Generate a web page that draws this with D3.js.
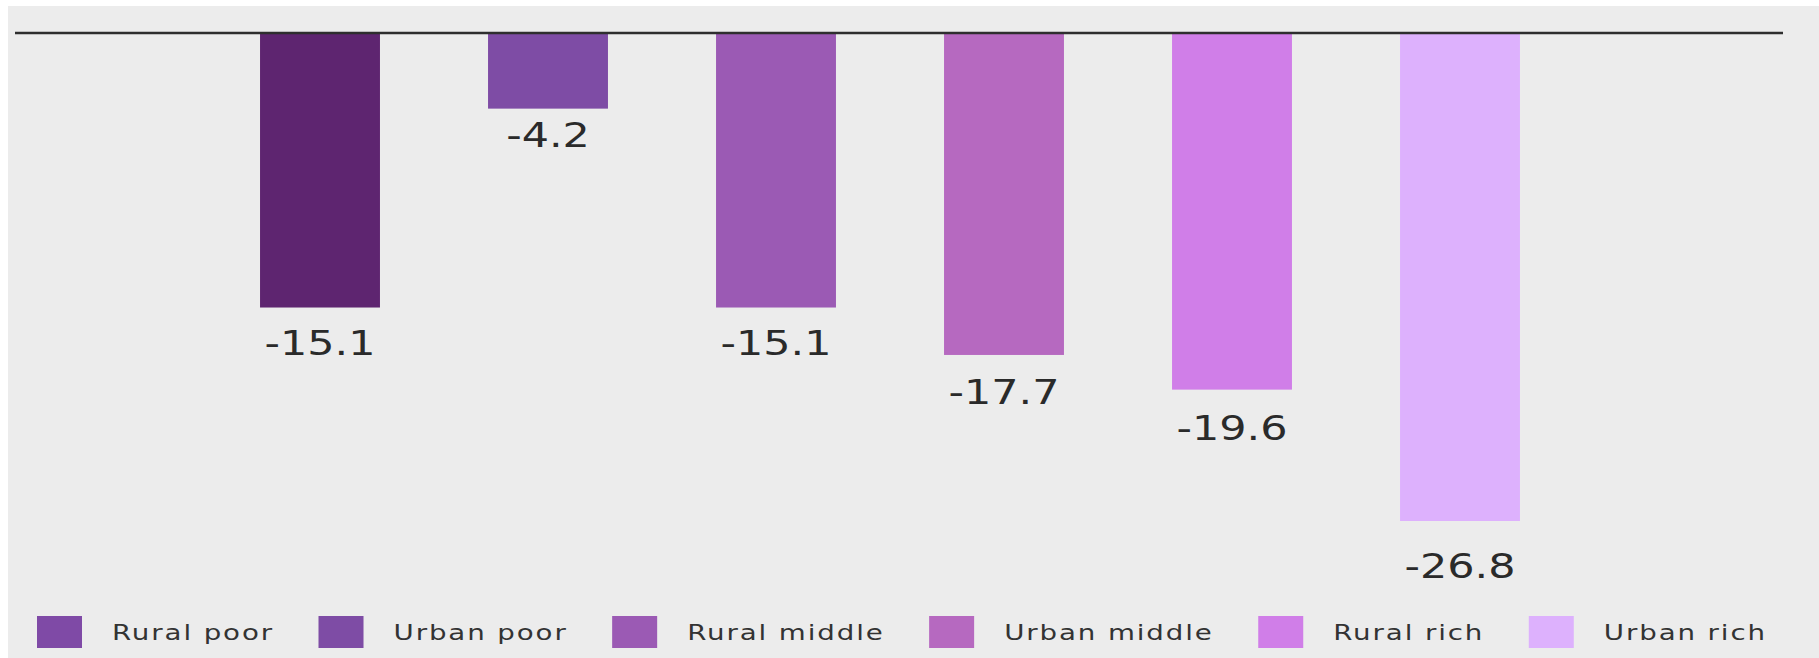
<!DOCTYPE html>
<html>
<head>
<meta charset="utf-8">
<script src="https://cdn.jsdelivr.net/npm/d3@7"></script>
<style>
  html, body { margin: 0; padding: 0; background: #ffffff; }
  svg { display: block; }
</style>
</head>
<body>
<svg id="chart" width="1819" height="658"></svg>
<script>
const categories = ["Rural poor", "Urban poor", "Rural middle", "Urban middle", "Rural rich", "Urban rich"];
const values = [-15.1, -4.2, -15.1, -17.7, -19.6, -26.8];
const valueLabels = ["-15.1", "-4.2", "-15.1", "-17.7", "-19.6", "-26.8"];
const barColors = ["#5e2570", "#7e4ca5", "#9b5ab4", "#b669c0", "#d07ee8", "#ddb1fd"];
const legendColors = ["#7f4aa6", "#7e4ca5", "#9b5ab4", "#b669c0", "#d07ee8", "#ddb1fd"];

const W = 1819, H = 658;
const svg = d3.select("#chart");

// background panel
svg.append("rect").attr("x", 8).attr("y", 6).attr("width", W - 8).attr("height", H - 6).attr("fill", "#ececec");

const x = d3.scaleBand().domain(categories).range([206, 1574]).paddingInner(0.474).paddingOuter(0.237);
const y = d3.scaleLinear().domain([0, -26.8]).range([32, 521]);
const yLabel = d3.scaleLinear().domain([0, -26.8]).range([66.7, 577.8]);

const data = categories.map((c, i) => ({ c, v: values[i], label: valueLabels[i], color: barColors[i] }));

svg.append("g").selectAll("rect").data(data).join("rect")
  .attr("x", d => x(d.c))
  .attr("y", d => y(0))
  .attr("width", x.bandwidth())
  .attr("height", d => y(d.v) - y(0))
  .attr("fill", d => d.color);

// zero line
svg.append("line").attr("x1", 15).attr("x2", 1783).attr("y1", y(0) + 1).attr("y2", y(0) + 1)
  .attr("stroke", "#2e2e2e").attr("stroke-width", 2.5);

// value labels
svg.append("g").selectAll("text").data(data).join("text")
  .attr("transform", d => `translate(${x(d.c) + x.bandwidth() / 2},${yLabel(d.v)}) scale(1.3,1)`)
  .attr("text-anchor", "middle")
  .attr("font-family", "DejaVu Sans")
  .attr("font-size", 33)
  .attr("fill", "#2a2a2a")
  .text(d => d.label);

// legend (flow layout)
const lg = svg.append("g");
let lx = 37;
const sx = 1.35;
categories.forEach((c, i) => {
  lg.append("rect").attr("x", lx).attr("y", 616).attr("width", 45).attr("height", 32).attr("fill", legendColors[i]);
  const tx = lx + 75;
  const t = lg.append("text")
    .attr("transform", `translate(${tx},640) scale(${sx},1)`)
    .attr("font-family", "DejaVu Sans")
    .attr("font-size", 20.5)
    .attr("letter-spacing", "1.4px")
    .attr("fill", "#333333")
    .text(c);
  const w = t.node().getComputedTextLength() * sx;
  lx = tx + w + 44.5;
});
</script>
</body>
</html>
